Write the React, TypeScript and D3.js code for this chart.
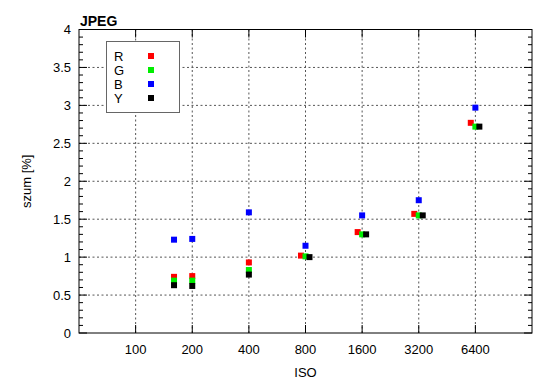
import * as d3 from "d3";

// nominal ISO positions per channel (R and Y are plotted slightly off the nominal ISO)
const isoTicks = [100, 200, 400, 800, 1600, 3200, 6400];
const isoG = [160, 200, 400, 800, 1600, 3200, 6400];
const isoB = [160, 200, 400, 800, 1600, 3200, 6400];
const isoR = [160, 200, 400, 757, 1515, 3030, 6050];
const isoY = [160, 200, 400, 840, 1680, 3360, 6720];

const noiseR = [0.74, 0.75, 0.93, 1.02, 1.33, 1.57, 2.77];
const noiseG = [0.69, 0.69, 0.83, 1.01, 1.3, 1.55, 2.72];
const noiseB = [1.23, 1.24, 1.59, 1.15, 1.55, 1.75, 2.97];
const noiseY = [0.63, 0.62, 0.77, 1.0, 1.3, 1.55, 2.72];

const yTicks = [0, 0.5, 1, 1.5, 2, 2.5, 3, 3.5, 4];

const series = [
  { label: "R", color: "#ff0000", iso: isoR, values: noiseR },
  { label: "G", color: "#00ee00", iso: isoG, values: noiseG },
  { label: "B", color: "#0000ff", iso: isoB, values: noiseB },
  { label: "Y", color: "#000000", iso: isoY, values: noiseY },
];

const width = 550;
const height = 389;
const margin = { top: 29.5, right: 18, bottom: 56, left: 79 };
const font = "'Liberation Sans', Arial, Helvetica, sans-serif";

export default function App() {
  const x = d3.scaleLog().base(2).domain([50, 12800]).range([margin.left, width - margin.right]);
  const y = d3.scaleLinear().domain([0, 4]).range([height - margin.bottom, margin.top]);
  const x0 = margin.left;
  const x1 = width - margin.right;
  const y0 = height - margin.bottom;
  const y1 = margin.top;
  const minor = d3.range(0, 4.0001, 0.1).filter((v) => Math.abs(v * 2 - Math.round(v * 2)) > 1e-6);
  const grid = { stroke: "#555", strokeWidth: 1, strokeDasharray: "2,2.5" };

  return (
    <svg width={width} height={height} style={{ position: "absolute", left: 0, top: 0, background: "#fff" }}>
      {/* Grid */}
      {yTicks.slice(1, -1).map((t) => (
        <line key={"gy" + t} x1={x0} x2={x1} y1={y(t)} y2={y(t)} {...grid} />
      ))}
      {isoTicks.map((t) => (
        <line key={"gx" + t} x1={x(t)} x2={x(t)} y1={y0} y2={y1} {...grid} />
      ))}

      {/* Ticks */}
      {yTicks.map((t) => (
        <g key={"ty" + t}>
          <line x1={x0} x2={x0 + 8} y1={y(t)} y2={y(t)} stroke="#000" />
          <line x1={x1} x2={x1 - 8} y1={y(t)} y2={y(t)} stroke="#000" />
          <text x={71} y={y(t)} dy="0.35em" textAnchor="end" fontFamily={font} fontSize={13}>
            {t}
          </text>
        </g>
      ))}
      {minor.map((t) => (
        <g key={"my" + t}>
          <line x1={x0} x2={x0 + 4} y1={y(t)} y2={y(t)} stroke="#000" />
          <line x1={x1} x2={x1 - 4} y1={y(t)} y2={y(t)} stroke="#000" />
        </g>
      ))}
      {isoTicks.map((t) => (
        <g key={"tx" + t}>
          <line x1={x(t)} x2={x(t)} y1={y0} y2={y0 - 8} stroke="#000" />
          <line x1={x(t)} x2={x(t)} y1={y1} y2={y1 + 8} stroke="#000" />
          <text x={x(t)} y={354} textAnchor="middle" fontFamily={font} fontSize={13}>
            {t}
          </text>
        </g>
      ))}

      {/* Frame */}
      <rect x={x0} y={y1} width={x1 - x0} height={y0 - y1} fill="none" stroke="#000" strokeWidth={1} />

      {/* Points */}
      {series.map((s) =>
        s.values.map((v, i) => (
          <rect key={s.label + i} x={x(s.iso[i]) - 3} y={y(v) - 3} width={6} height={6} fill={s.color} />
        ))
      )}

      {/* Legend */}
      <rect x={106.5} y={41.5} width={73} height={71} fill="#fff" stroke="#666" strokeWidth={1} />
      {series.map((s, i) => (
        <g key={"lg" + s.label}>
          <text x={114} y={56 + i * 14} dy="0.36em" fontFamily={font} fontSize={13}>
            {s.label}
          </text>
          <rect x={148} y={53 + i * 14} width={6} height={6} fill={s.color} />
        </g>
      ))}

      {/* Labels */}
      <text x={80} y={25.5} fontFamily={font} fontSize={14} fontWeight="bold">
        JPEG
      </text>
      <text x={(x0 + x1) / 2} y={377} textAnchor="middle" fontFamily={font} fontSize={13}>
        ISO
      </text>
      <text
        transform={`translate(31,${(y0 + y1) / 2}) rotate(-90)`}
        textAnchor="middle"
        fontFamily={font}
        fontSize={13}
      >
        szum [%]
      </text>
    </svg>
  );
}
